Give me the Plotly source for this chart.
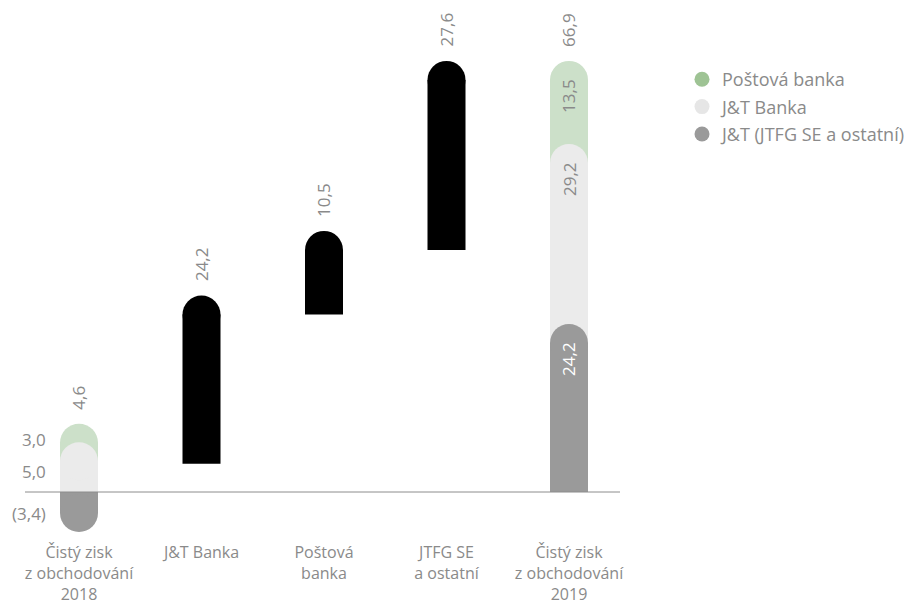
import plotly.graph_objects as go

# ---------------- data ----------------
categories = ["Čistý zisk<br>z obchodování<br>2018", "J&T Banka", "Poštová<br>banka",
              "JTFG SE<br>a ostatní", "Čistý zisk<br>z obchodování<br>2019"]
series_names = ["Poštová banka", "J&T Banka", "J&T (JTFG SE a ostatní)"]
values_2018 = [3.0, 5.0, -3.4]      # Poštová banka, J&T Banka, J&T (JTFG SE a ostatní)
changes = [24.2, 10.5, 27.6]        # J&T Banka, Poštová banka, JTFG SE a ostatní
values_2019 = [13.5, 29.2, 24.2]    # Poštová banka, J&T Banka, J&T (JTFG SE a ostatní)
total_2018 = 4.6
total_2019 = 66.9

# ---------------- style ----------------
FONT = "Open Sans"
TXT = "#8a8a8a"
bar_colors = ["#cce0c9", "#ebebeb", "#9a9a9a"]
legend_colors = ["#9ec394", "#e6e6e6", "#9a9a9a"]
CHANGE_COLOR = "#000000"
FS = 17
TFS = 16
LFS = 18

W, H = 922, 606
L, R, T, B = 25, 302, 20, 66
plot_w = W - L - R
plot_h = H - T - B
x_range = [-0.4408, 4.4163]
y_range = [-7.79, 76.62]
px_per_x = plot_w / (x_range[1] - x_range[0])
BAR_PX = 38
bar_w = BAR_PX / px_per_x
RAD = BAR_PX / 2


def fmt(v):
    s = f"{abs(v):.1f}".replace(".", ",")
    return f"({s})" if v < 0 else s


fig = go.Figure()


def stack(vals):
    """Return (base, height) for each segment, stacking bottom series first."""
    out = [None] * len(vals)
    pos, neg = 0.0, 0.0
    for i in reversed(range(len(vals))):
        v = vals[i]
        if v >= 0:
            out[i] = (pos, v)
            pos += v
        else:
            out[i] = (neg, v)
            neg += v
    return out


stacks = {0: stack(values_2018), 4: stack(values_2019)}

# stacked bars (rectangles)
for s in range(len(series_names)):
    xs, ys, bs = [], [], []
    for xi, st in stacks.items():
        b, h = st[s]
        xs.append(xi); ys.append(h); bs.append(b)
    fig.add_trace(go.Bar(x=xs, y=ys, base=bs, width=bar_w, marker=dict(color=bar_colors[s], line=dict(width=0)),
                         showlegend=False, hoverinfo="skip"))

# waterfall change bars
cum = [total_2018]
for c in changes:
    cum.append(cum[-1] + c)
fig.add_trace(go.Bar(x=[1, 2, 3], y=changes, base=cum[:-1], width=bar_w,
                     marker=dict(color=CHANGE_COLOR, line=dict(width=0)), showlegend=False, hoverinfo="skip"))

# rounded caps (drawn top series first so lower caps overlap upper segments)
for s in range(len(series_names)):
    xs, ys = [], []
    for xi, st in stacks.items():
        b, h = st[s]
        xs.append(xi); ys.append(b + h)
    fig.add_trace(go.Scatter(x=xs, y=ys, mode="markers", marker=dict(size=BAR_PX, color=bar_colors[s], line=dict(width=0)),
                             showlegend=False, hoverinfo="skip", cliponaxis=False))
fig.add_trace(go.Scatter(x=[1, 2, 3], y=cum[1:], mode="markers",
                         marker=dict(size=BAR_PX, color=CHANGE_COLOR, line=dict(width=0)),
                         showlegend=False, hoverinfo="skip", cliponaxis=False))

# legend entries
for s in range(len(series_names)):
    fig.add_trace(go.Scatter(x=[None], y=[None], mode="markers", name=series_names[s], legendgroup=series_names[s],
                             marker=dict(size=15, color=legend_colors[s])))

ann = []
GAP = 12
# top labels (totals and changes)
top_2018 = sum(v for v in values_2018 if v > 0)
top_2019 = sum(v for v in values_2019 if v > 0)
for xi, ytop, val in [(0, top_2018, total_2018), (1, cum[1], changes[0]), (2, cum[2], changes[1]),
                      (3, cum[3], changes[2]), (4, top_2019, total_2019)]:
    ann.append(dict(x=xi, y=ytop, text=fmt(val), textangle=-90, showarrow=False, yanchor="bottom", xanchor="center",
                    yshift=RAD + GAP, font=dict(size=FS, color=TXT, family=FONT)))

# 2018 segment labels (left of bar)
shifts_2018 = [3, -10, -1]
for s, (b, h) in enumerate(stacks[0]):
    ann.append(dict(x=0 - bar_w / 2, y=b + h, text=fmt(values_2018[s]), showarrow=False, xanchor="right",
                    yanchor="middle", xshift=-12, yshift=shifts_2018[s],
                    font=dict(size=FS, color=TXT, family=FONT)))

# 2019 segment labels (inside, top)
in_colors = [TXT, TXT, "#ffffff"]
for s, (b, h) in enumerate(stacks[4]):
    ann.append(dict(x=4, y=b + h, text=fmt(values_2019[s]), textangle=-90, showarrow=False, xanchor="center",
                    yanchor="top", yshift=3, font=dict(size=FS, color=in_colors[s], family=FONT)))

fig.update_layout(
    width=W, height=H,
    margin=dict(l=L, r=R, t=T, b=B, autoexpand=False),
    paper_bgcolor="white", plot_bgcolor="white",
    barmode="overlay",
    font=dict(family=FONT, size=FS, color=TXT),
    xaxis=dict(range=x_range, tickmode="array", tickvals=list(range(len(categories))), ticktext=categories,
               showgrid=False, zeroline=False, showline=False, ticks="", tickfont=dict(size=TFS, color=TXT),
               ticklabelstandoff=1, automargin=False, fixedrange=True),
    yaxis=dict(range=y_range, visible=False, showgrid=False, zeroline=False, automargin=False, fixedrange=True),
    shapes=[dict(type="line", xref="paper", yref="y", x0=0, x1=1, y0=0, y1=0,
                 line=dict(color="#8c8c8c", width=1), layer="above")],
    annotations=ann,
    legend=dict(xref="container", yref="container", x=682 / W, y=1 - 61 / H, xanchor="left", yanchor="top",
                font=dict(size=LFS, color=TXT, family=FONT), tracegroupgap=1, itemsizing="trace",
                bgcolor="rgba(0,0,0,0)"),
)

fig.write_html("out.html", config={"displayModeBar": False},
               post_script="document.body.style.margin='0px';")
